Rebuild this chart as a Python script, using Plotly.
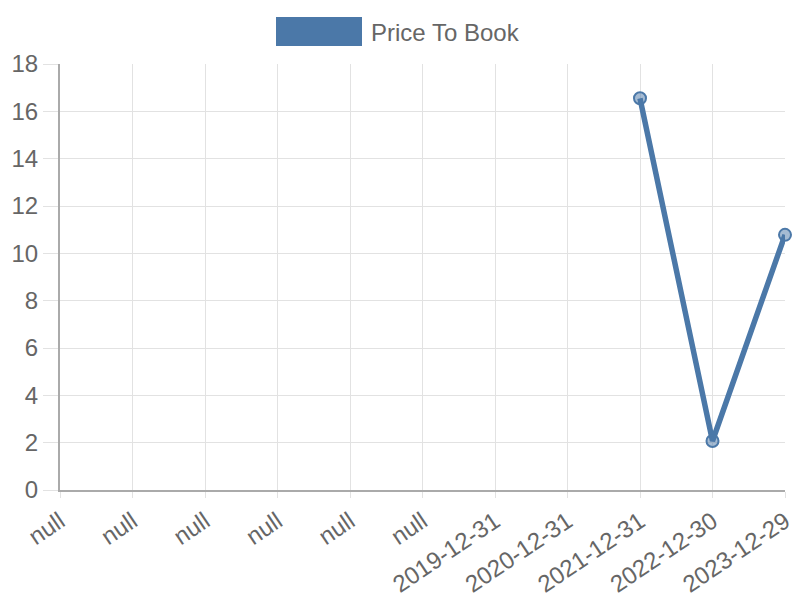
import plotly.graph_objects as go

# data
dates = ["null", "null", "null", "null", "null", "null",
         "2019-12-31", "2020-12-31", "2021-12-31", "2022-12-30", "2023-12-29"]
price_to_book = [None, None, None, None, None, None, None, None, 16.55, 2.07, 10.78]
y_ticks = [0, 2, 4, 6, 8, 10, 12, 14, 16, 18]

LINE = "rgb(75,120,168)"
FILL = "rgba(75,120,168,0.5)"
GRID = "#e2e2e2"
TEXT = "#666666"

# duplicated "null" labels would collapse on a category axis, so use positions
x_pos = list(range(len(dates)))

fig = go.Figure()
fig.add_trace(
    go.Scatter(
        x=x_pos,
        y=price_to_book,
        mode="lines+markers",
        name="Price To Book",
        line=dict(color=LINE, width=5.5),
        marker=dict(size=12, color=FILL, line=dict(color=LINE, width=2)),
        cliponaxis=False,
        showlegend=False,
    )
)

# legend drawn as a filled box + label, like the original
fig.add_shape(type="rect", xref="paper", yref="paper",
              x0=(276 - 60) / 725, x1=(362 - 60) / 725,
              y0=(490 - 46) / 426, y1=(490 - 17) / 426,
              fillcolor=LINE, line=dict(width=0), layer="above")
fig.add_annotation(xref="paper", yref="paper", x=(369 - 60) / 725, y=(490 - 32) / 426,
                   text="Price To Book", showarrow=False, xanchor="left", yanchor="middle",
                   font=dict(size=24, color=TEXT))

# page body has an 8px margin, so the figure is 8px smaller than the window
fig.update_layout(
    width=792,
    height=592,
    margin=dict(l=52, r=15, t=56, b=110),
    paper_bgcolor="white",
    plot_bgcolor="white",
    font=dict(family="Liberation Sans, Arial, sans-serif", size=24, color=TEXT),
)

fig.update_xaxes(
    range=[0, len(dates) - 1],
    tickmode="array",
    tickvals=x_pos,
    ticktext=dates,
    tickangle=-34,
    automargin=False,
    showgrid=True,
    gridcolor=GRID,
    gridwidth=1,
    ticks="outside",
    ticklen=6,
    tickcolor=GRID,
    showline=True,
    linecolor="#aaaaaa",
    linewidth=2,
    zeroline=False,
)
fig.update_yaxes(
    range=[0, 18],
    tickmode="array",
    tickvals=y_ticks,
    automargin=False,
    showgrid=True,
    gridcolor=GRID,
    gridwidth=1,
    ticks="outside",
    ticklen=15,
    tickcolor=GRID,
    showline=True,
    linecolor="#aaaaaa",
    linewidth=2,
    zeroline=False,
)

fig.write_html("out.html")
